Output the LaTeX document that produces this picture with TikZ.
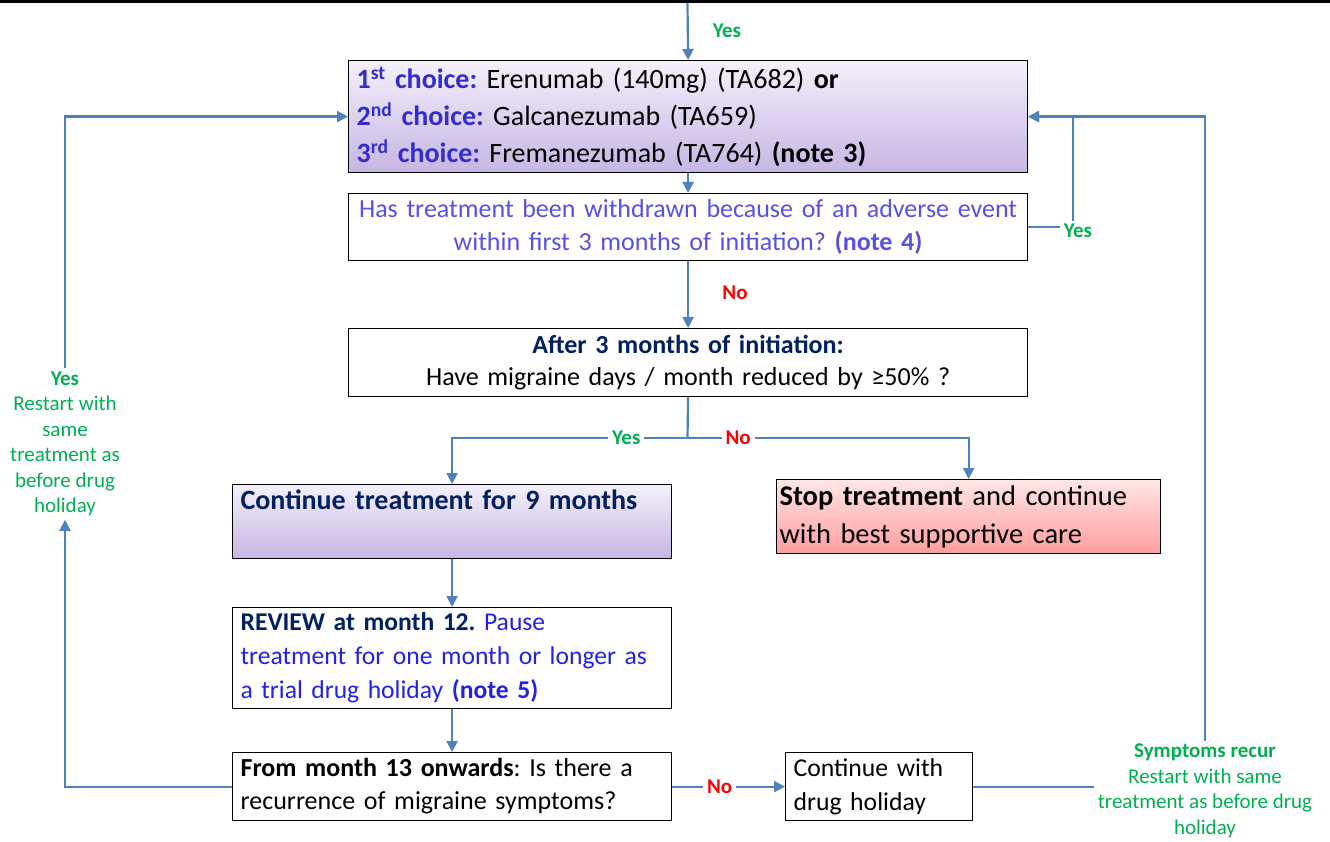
\documentclass[tikz,border=0pt]{standalone}
\usepackage{fontspec}
\setmainfont{Carlito}
\usetikzlibrary{arrows.meta}
\frenchspacing
\definecolor{linkblue}{RGB}{79,129,189}
\definecolor{yesgreen}{RGB}{0,176,80}
\definecolor{nored}{RGB}{255,0,0}
\definecolor{navy}{RGB}{0,32,96}
\definecolor{choiceblue}{RGB}{51,45,204}
\definecolor{askblue}{RGB}{88,80,228}
\definecolor{pauseblue}{RGB}{34,34,230}
\definecolor{lilactop}{RGB}{244,240,251}
\definecolor{lilacbot}{RGB}{198,182,228}
\definecolor{pinktop}{RGB}{255,230,230}
\definecolor{pinkbot}{RGB}{255,158,158}
\begin{document}
\begin{tikzpicture}[x=1pt,y=-1pt,%
% common options for boxes:
box/.style = {draw=black, line width=1.2pt, anchor=north west,
            inner xsep=8pt, inner ysep=2pt, align=left},
lilac/.style = {top color=lilactop, bottom color=lilacbot},
pink/.style = {top color=pinktop, bottom color=pinkbot},
% common options for the connectors:
plain/.style = {draw=linkblue, line width=2.2pt},
link/.style = {plain, -{Triangle[length=11pt,width=11pt]}},
% common options for the yes/no labels:
yes/.style = {text=yesgreen, font=\fontsize{21}{24}\selectfont\bfseries, inner xsep=4pt},
no/.style = {text=nored, font=\fontsize{21}{24}\selectfont\bfseries, inner xsep=4pt},
note/.style = {text=yesgreen, align=center, font=\fontsize{21}{25.5}\selectfont}]
\useasboundingbox (0,0) rectangle (1330,842);
\draw[line width=3pt] (0,1.5) -- (1330,1.5);
% boxes
\node[box, lilac, minimum width=679pt, minimum height=112pt, text width=663pt,
      font=\fontsize{28}{37}\selectfont] (C1) at (348,60)
  {\textcolor{choiceblue}{\textbf{1\textsuperscript{st} choice:}} Erenumab (140mg) (TA682) \textbf{or}\\
   \textcolor{choiceblue}{\textbf{2\textsuperscript{nd} choice:}} Galcanezumab (TA659)\\
   \textcolor{choiceblue}{\textbf{3\textsuperscript{rd} choice:}} Fremanezumab (TA764) \textbf{(note 3)}};
\node[box, align=center, minimum width=679pt, minimum height=67pt, text width=663pt,
      text=askblue, font=\fontsize{26}{33}\selectfont] (Q1) at (348,193)
  {Has treatment been withdrawn because of an adverse event\\
   within first 3 months of initiation? \textbf{(note 4)}};
\node[box, align=center, minimum width=679pt, minimum height=68pt, text width=663pt,
      font=\fontsize{26}{32}\selectfont] (Q2) at (348,328)
  {\textcolor{navy}{\textbf{After 3 months of initiation:}}\\
   Have migraine days / month reduced by ≥50\% ?};
\node[box, lilac, minimum width=439pt, minimum height=74pt, text width=423pt,
      font=\fontsize{28}{34}\selectfont] (R1) at (232,484)
  {\textcolor{navy}{\textbf{Continue treatment for 9 months}}\\ \strut};
\node[box, pink, inner xsep=3pt, minimum width=384pt, minimum height=74pt, text width=378pt,
      font=\fontsize{28.5}{38}\selectfont] (S1) at (776,479)
  {\textbf{Stop treatment} and continue\\ with best supportive care};
\node[box, minimum width=439pt, minimum height=101pt, text width=423pt,
      font=\fontsize{25.6}{34}\selectfont] (R2) at (232,607)
  {\textcolor{navy}{\textbf{REVIEW at month 12.}} \textcolor{pauseblue}{Pause\\
   treatment for one month or longer as\\ a trial drug holiday \textbf{(note 5)}}};
\node[box, minimum width=439pt, minimum height=68pt, text width=423pt,
      font=\fontsize{26}{33}\selectfont] (Q3) at (232,752)
  {\textbf{From month 13 onwards}: Is there a\\ recurrence of migraine symptoms?};
\node[box, minimum width=187pt, minimum height=68pt, text width=171pt,
      font=\fontsize{25.7}{34}\selectfont] (H1) at (785,752)
  {Continue with\\ drug holiday};
% labels
\node[yes] (Y0) at (727,31) {Yes};
\node[no] (N1) at (735,293) {No};
\node[yes] (Y1) at (1078,231) {Yes};
\node[note] (Y2) at (65,444) {\textbf{Yes}\\ Restart with\\ same\\ treatment as\\ before drug\\ holiday};
\node[note] (Y3) at (1205,791) {\textbf{Symptoms recur}\\ Restart with same\\ treatment as before drug\\ holiday};
\coordinate (top) at (687.5,3);
\coordinate (J) at (687.5,438);
% connectors
\draw[link] (top) -- (C1.north);
\draw[link] (C1.south) -- (Q1.north);
\draw[plain] (Q1.east) -- (Q1.east -| Y1.west);
\draw[link] ([xshift=-5pt]Y1.north) |- (C1.east);
\draw[link] (Q1.south) -- (Q2.north);
\draw[plain] (Q2.south) -- (J);
\draw[link] (J) -| node[yes, fill=white, pos=0.13] {Yes} (R1.north);
\draw[link] (J) -| node[no, fill=white, pos=0.09] {No} (S1.north);
\draw[link] (R1.south) -- (R2.north);
\draw[link] (R2.south) -- (Q3.north);
\draw[link] (Q3.west) -| (Y2.south);
\draw[link] (Y2.north) |- (C1.west);
\draw[link] (Q3.east) -- node[no, fill=white, pos=0.42] {No} (H1.west);
\draw[plain] (H1.east) -- (H1.east -| Y3.west);
\draw[link] (Y3.north) |- (C1.east);
\end{tikzpicture}
\end{document}
